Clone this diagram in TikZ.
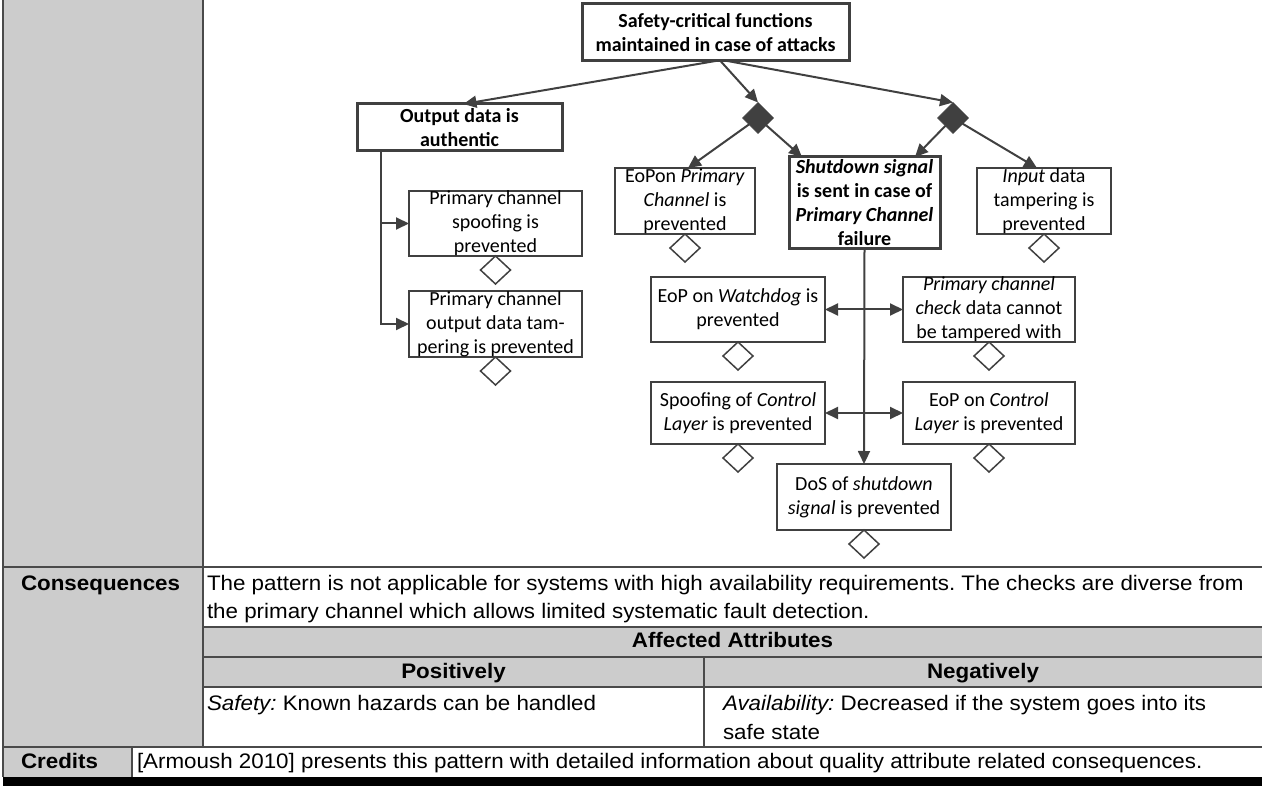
\documentclass[tikz,border=0pt]{standalone}
\usepackage{fontspec}
\setmainfont{Carlito}
\newfontfamily\tabfont[FakeStretch=1.065]{Liberation Sans}
\usetikzlibrary{shapes.geometric, arrows.meta, calc}

\definecolor{ink}{HTML}{404040}
\definecolor{cellgray}{HTML}{CCCCCC}
\definecolor{rulegray}{HTML}{4A4A4A}

\begin{document}
\frenchspacing
\begin{tikzpicture}[x=1pt, y=-1pt,
  every node/.style={inner sep=0pt, outer sep=0pt},
  gbox/.style={draw=ink, line width=1.7pt, rectangle},
  kbox/.style={draw=ink, line width=3pt, rectangle},
  btxt/.style={align=center, font=\fontsize{20}{24}\selectfont},
  ktxt/.style={align=center, font=\fontsize{20}{24}\selectfont\bfseries},
  odiam/.style={diamond, draw=ink, line width=1.5pt, fill=white,
    minimum width=30pt, minimum height=28pt, anchor=north},
  adiam/.style={diamond, draw=ink, fill=ink, line width=0.5pt,
    minimum width=31pt, minimum height=31pt},
  tip/.style={},
  conn/.style={draw=ink, line width=2pt, -{Triangle[length=13pt,width=12pt]}},
  conn2/.style={draw=ink, line width=2pt,
    {Triangle[length=13pt,width=12pt]}-{Triangle[length=13pt,width=12pt]}},
  tline/.style={draw=rulegray, line width=1.2pt},
  ttxt/.style={anchor=base west, font=\tabfont\fontsize{21}{28}\selectfont},
  ttxtb/.style={anchor=base west, font=\tabfont\fontsize{21}{28}\selectfont\bfseries},
]
\useasboundingbox (0,0) rectangle (1262,786);

% ---------- table frame ----------
\fill[cellgray] (3,0) rectangle (203,747);
\fill[cellgray] (203,627) rectangle (1262,687);
\fill[cellgray] (3,747) rectangle (132,777);
\fill[black] (3,777) rectangle (1262,786);
\draw[tline] (3,0) -- (3,777);
\draw[tline] (203,0) -- (203,747);
\draw[tline] (3,567) -- (1262,567);
\draw[tline] (203,627) -- (1262,627);
\draw[tline] (203,657) -- (1262,657);
\draw[tline] (203,687) -- (1262,687);
\draw[tline] (704,657) -- (704,747);
\draw[tline] (3,747) -- (1262,747);
\draw[tline] (132,747) -- (132,777);

% ---------- goal tree ----------
\node[kbox, minimum width=267pt, minimum height=57pt] (top) at (715.5,32.5) {};
\node[ktxt] (top-t) at (top) {Safety-critical functions\\maintained in case of attacks};

\node[kbox, minimum width=205pt, minimum height=47pt] (out) at (459.5,127.5) {};
\node[ktxt] (out-t) at (out) {Output data is\\authentic};

\node[gbox, minimum width=173pt, minimum height=65pt] (pcs) at (495.5,223.5) {};
\node[btxt] (pcs-t) at (pcs) {Primary channel\\spoofing is\\prevented};

\node[gbox, minimum width=173pt, minimum height=66pt] (pco) at (495.5,324) {};
\node[btxt] (pco-t) at (pco) {Primary channel\\output data tam-\\pering is prevented};

\node[adiam] (d1) at (758,118) {};
\node[adiam] (d2) at (953,118) {};

\node[gbox, minimum width=140pt, minimum height=66pt] (eop1) at (685,201) {};
\node[btxt] (eop1-t) at (eop1) {EoPon \textit{Primary}\\\textit{Channel} is\\prevented};

\node[kbox, minimum width=151pt, minimum height=92pt] (shut) at (864.5,203) {};
\node[ktxt] (shut-t) at (shut) {\textit{Shutdown signal}\\is sent in case of\\\textit{Primary Channel}\\failure};

\node[gbox, minimum width=134pt, minimum height=66pt] (inp) at (1044,201) {};
\node[btxt] (inp-t) at (inp) {\textit{Input} data\\tampering is\\prevented};

\node[gbox, minimum width=174pt, minimum height=65pt] (wd) at (738,309.5) {};
\node[btxt] (wd-t) at (wd) {EoP on \textit{Watchdog} is\\prevented};

\node[gbox, minimum width=172pt, minimum height=65pt] (chk) at (989,309.5) {};
\node[btxt] (chk-t) at (chk) {\textit{Primary channel}\\\textit{check} data cannot\\be tampered with};

\node[gbox, minimum width=174pt, minimum height=62pt] (spf) at (738,413) {};
\node[btxt] (spf-t) at (spf) {Spoofing of \textit{Control}\\\textit{Layer} is prevented};

\node[gbox, minimum width=172pt, minimum height=62pt] (eopc) at (989,413) {};
\node[btxt] (eopc-t) at (eopc) {EoP on \textit{Control}\\\textit{Layer} is prevented};

\node[gbox, minimum width=174pt, minimum height=66pt] (dos) at (864,497) {};
\node[btxt] (dos-t) at (dos) {DoS of \textit{shutdown}\\\textit{signal} is prevented};

% undeveloped-goal markers
\foreach \g in {pcs,pco,eop1,inp,wd,chk,spf,eopc,dos}
  \node[odiam] (\g-u) at (\g.south) {};

% connectors
\draw[conn] (top.south) -- ($(out.north)+(4,0)$);
\draw[conn] ($(top.south)+(5,0)$) -- (d1.north);
\draw[conn] ($(top.south)+(12,0)$) -- (d2.north);
\draw[conn] (d1) -- ($(eop1.north)+(3,0)$);
\draw[conn] (d1) -- ($(shut.north west)+(13,0)$);
\draw[conn] (d2) -- ($(shut.north east)+(-25,0)$);
\draw[conn] (d2) -- ($(inp.north)+(-7,0)$);
\coordinate (trunk) at ($(out.south west)+(24,0)$);
\draw[conn] (trunk) |- (pcs.west);
\draw[conn] (trunk) |- (pco.west);
\draw[conn] (shut.south) -- (dos.north);
\draw[conn2] (wd.east) -- (chk.west);
\draw[conn2] (spf.east) -- (eopc.west);

% ---------- table text ----------
\node[ttxtb] (conseq-h) at (21,590) {Consequences};
\node[ttxt] (conseq-1) at (207,590) {The pattern is not applicable for systems with high availability requirements. The checks are diverse from};
\node[ttxt] (conseq-2) at (207,618) {the primary channel which allows limited systematic fault detection.};
\node[ttxtb, anchor=base] (aff) at (732.5,647) {Affected Attributes};
\node[ttxtb, anchor=base] (pos) at (453.5,678) {Positively};
\node[ttxtb, anchor=base] (neg) at (983,678) {Negatively};
\node[ttxt] (safety) at (207,710) {\textit{Safety:} Known hazards can be handled};
\node[ttxt] (avail-1) at (723,710) {\textit{Availability:} Decreased if the system goes into its};
\node[ttxt] (avail-2) at (723,739) {safe state};
\node[ttxtb] (cred-h) at (21,768) {Credits};
\node[ttxt] (cred) at (137,768) {[Armoush 2010] presents this pattern with detailed information about quality attribute related consequences.};
\end{tikzpicture}
\end{document}
